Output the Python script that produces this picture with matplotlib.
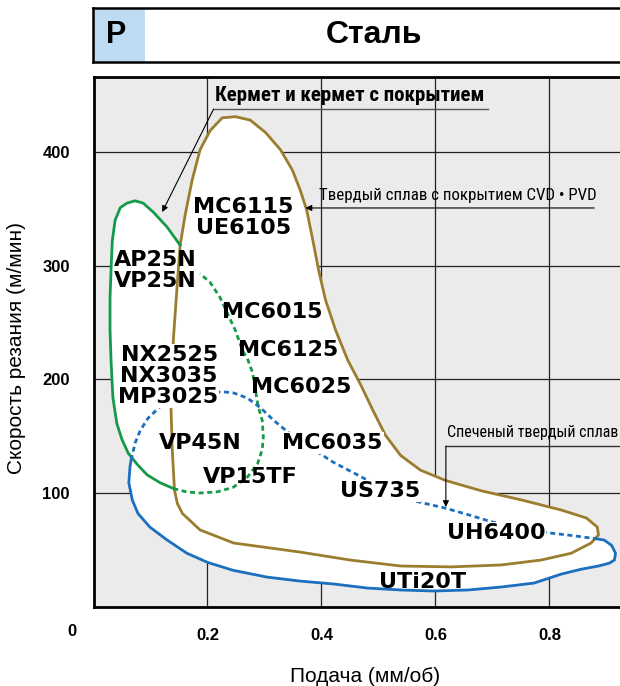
import matplotlib
matplotlib.use("Agg")
import matplotlib.pyplot as plt
from matplotlib.patches import Rectangle, Polygon

# ---------------- data (feed mm/rev, cutting speed m/min) ----------------
# Coated carbide CVD/PVD region (closed outline)
brown_x = [0.142, 0.138, 0.136, 0.138, 0.140, 0.145, 0.152, 0.161, 0.173, 0.187,
           0.205, 0.226, 0.249, 0.275, 0.302, 0.328, 0.349, 0.363, 0.374, 0.385,
           0.395, 0.407, 0.425, 0.446, 0.469, 0.490, 0.512, 0.539, 0.574, 0.618,
           0.680, 0.750, 0.821, 0.865, 0.884, 0.886, 0.873, 0.838, 0.785, 0.715,
           0.627, 0.539, 0.451, 0.363, 0.334, 0.246, 0.187, 0.156, 0.147, 0.142]
brown_y = [103, 140, 175, 200, 234, 270, 318, 345, 375, 402,
           419, 430, 431, 428, 417, 402, 384, 366, 349, 322,
           296, 270, 243, 217, 195, 173, 151, 133, 120, 111,
           102, 94, 85, 78, 70, 63, 56, 47, 41, 36.7,
           35, 35.8, 41, 48, 50, 56, 67.5, 82, 91, 103]

# Cermet region: solid part then dashed part
green_solid_x = [0.152, 0.129, 0.105, 0.087, 0.073, 0.059, 0.047, 0.038, 0.033, 0.031,
                 0.029, 0.029, 0.031, 0.034, 0.041, 0.050, 0.061, 0.077, 0.094,
                 0.117, 0.140]
green_solid_y = [318, 334, 347, 355, 357, 355, 351, 340, 322, 299,
                 272, 243, 214, 184, 161, 147, 135, 125, 116,
                 109, 104]
green_dash_x = [0.140, 0.164, 0.187, 0.217, 0.245, 0.270, 0.288, 0.296, 0.298, 0.296,
                0.289, 0.284, 0.279, 0.271, 0.261, 0.249, 0.235, 0.222, 0.205, 0.187]
green_dash_y = [104, 100.9, 100, 101, 105, 114, 126, 138, 149, 164,
                176, 191, 206, 217, 226, 243, 258, 272, 285, 293]

# Sintered carbide region: dashed upper part, solid lower part
blue_dash_x = [0.066, 0.073, 0.082, 0.096, 0.117, 0.143, 0.179, 0.228, 0.246, 0.270,
               0.293, 0.316, 0.340, 0.363, 0.393, 0.421, 0.463, 0.504, 0.544, 0.580,
               0.615, 0.657, 0.697, 0.750, 0.798, 0.833, 0.879]
blue_dash_y = [129, 144, 155, 166, 176, 183.6, 188, 189, 188, 183.5,
               175, 164, 154, 146, 136, 127, 116, 105, 95.6, 91,
               87, 81, 74.9, 69, 65, 63, 60]
blue_solid_x = [0.879, 0.896, 0.909, 0.916, 0.914, 0.905, 0.886, 0.856, 0.821, 0.773,
                0.715, 0.657, 0.597, 0.539, 0.481, 0.421, 0.363, 0.305, 0.245, 0.200,
                0.164, 0.129, 0.099, 0.078, 0.068, 0.062, 0.064, 0.066]
blue_solid_y = [60, 58.6, 54, 47, 41, 38.3, 35.8, 33, 28.7, 20.8,
                17.3, 14.7, 13.8, 14.7, 16.4, 20, 22.5, 26, 32, 39,
                47, 58.7, 70, 82, 94, 109, 123, 129]

x_ticks = [0.2, 0.4, 0.6, 0.8]
x_tick_labels = ["0.2", "0.4", "0.6", "0.8"]
y_ticks = [100, 200, 300, 400]
y_tick_labels = ["100", "200", "300", "400"]

grade_labels = ["AP25N", "VP25N", "MC6115", "UE6105", "MC6015", "MC6125",
                "NX2525", "NX3035", "MP3025", "MC6025", "VP45N", "MC6035",
                "VP15TF", "US735", "UH6400", "UTi20T"]
grade_x = [0.1082, 0.1082, 0.2630, 0.2630, 0.3140, 0.3421,
           0.1328, 0.1328, 0.1310, 0.3650, 0.1873, 0.4195,
           0.2753, 0.5022, 0.7062, 0.5778]
grade_y = [306.6, 288.2, 353.2, 334.8, 261.0, 227.5,
           223.1, 204.6, 186.1, 194.9, 145.8, 145.8,
           115.9, 103.6, 66.6, 23.5]
masked = {"NX2525", "NX3035", "MP3025", "MC6035", "US735", "UH6400"}

title = "Сталь"
group = "P"
x_label = "Подача (мм/об)"
y_label = "Скорость резания (м/мин)"
note_cermet = "Кермет и кермет с покрытием"
note_coated = "Твердый сплав с покрытием CVD • PVD"
note_sinter = "Спеченый твердый сплав"

# ---------------- style ----------------
BROWN = "#9b7d2e"
GREEN = "#159a4a"
BLUE = "#1b6fbe"
BG = "#ebebeb"
NARROW = ["Roboto Condensed", "Liberation Sans Narrow", "Liberation Sans", "DejaVu Sans"]
ARIAL = ["Liberation Sans", "DejaVu Sans"]

W, H = 620, 686
fig = plt.figure(figsize=(W / 100, H / 100), dpi=100)

# header
hax = fig.add_axes([93 / W, 1 - 62 / H, 1.0, 54 / H])
hax.set_xlim(0, W)
hax.set_ylim(0, 54)
hax.set_xticks([])
hax.set_yticks([])
for s in hax.spines.values():
    s.set_linewidth(1.8)
hax.add_patch(Rectangle((0, 0), 52, 54, facecolor="#bddcf3", edgecolor="none"))
hax.text(23, 27, group, ha="center", va="center", fontsize=22,
         fontweight="bold", family=ARIAL)
hax.text(281, 27, title, ha="center", va="center", fontsize=23,
         fontweight="bold", family=ARIAL)

# main axes
x0, y0 = 93.5, 606.7
ax = fig.add_axes([x0 / W, 1 - y0 / H, 1 - x0 / W + 0.002, (y0 - 77) / H])
ax.set_xlim(0, 0.926)
ax.set_ylim(0, 465.9)
ax.set_facecolor(BG)
ax.set_axisbelow(True)
ax.grid(True, color="#222222", linewidth=0.9)
for side in ["left", "bottom", "top"]:
    ax.spines[side].set_linewidth(2.0)
ax.spines["right"].set_visible(False)
ax.set_xticks(x_ticks)
ax.set_xticklabels(x_tick_labels)
ax.set_yticks(y_ticks)
ax.set_yticklabels(y_tick_labels)
ax.tick_params(length=0, labelsize=12)
ax.tick_params(axis="x", pad=15)
ax.tick_params(axis="y", pad=17)
for lab in ax.get_xticklabels() + ax.get_yticklabels():
    lab.set_fontweight("bold")
    lab.set_family(ARIAL)
fig.text(72 / W, 1 - 632 / H, "0", ha="center", va="center", fontsize=12,
         fontweight="bold", family=ARIAL)

# white filled regions
for px_, py_ in [(brown_x, brown_y),
                 (green_solid_x + green_dash_x, green_solid_y + green_dash_y),
                 (blue_dash_x + blue_solid_x, blue_dash_y + blue_solid_y)]:
    ax.add_patch(Polygon(list(zip(px_, py_)), closed=True, facecolor="white",
                         edgecolor="none", zorder=1))

lw = 2.0
ax.plot(brown_x, brown_y, color=BROWN, lw=lw, zorder=3, solid_joinstyle="round")
ax.plot(green_solid_x, green_solid_y, color=GREEN, lw=lw, zorder=3)
ax.plot(green_dash_x, green_dash_y, color=GREEN, lw=lw, zorder=3,
        linestyle=(0, (1.8, 1.3)))
ax.plot(blue_solid_x, blue_solid_y, color=BLUE, lw=lw, zorder=3)
ax.plot(blue_dash_x, blue_dash_y, color=BLUE, lw=lw, zorder=3,
        linestyle=(0, (1.8, 1.3)))

# grade labels (y given at cap centre; shift to baseline)
for name, gx, gy in zip(grade_labels, grade_x, grade_y):
    kw = {}
    if name in masked:
        kw["bbox"] = dict(boxstyle="square,pad=0.05", facecolor="white",
                          edgecolor="none")
    ax.text(gx, gy - 7.0, name, ha="center", va="baseline", fontsize=16,
            fontweight="bold", zorder=5, **kw)

# notes with leaders
arrow = dict(arrowstyle="-|>", color="black", lw=0.8, mutation_scale=9,
             shrinkA=0, shrinkB=0)
ax.text(0.4494, 449.2, note_cermet, ha="center", va="center", fontsize=15,
        fontweight="bold", family=NARROW, zorder=6)
ax.plot([0.2107, 0.6921], [437.7, 437.7], color="#555555", lw=1.0, zorder=6)
ax.annotate("", xy=(0.1205, 347.1), xytext=(0.2107, 437.7),
            arrowprops=arrow, zorder=6)

ax.text(0.6385, 362.0, note_coated, ha="center", va="center", fontsize=12.2,
        family=NARROW, zorder=6)
ax.annotate("", xy=(0.372, 350.7), xytext=(0.8786, 350.7),
            arrowprops=arrow, zorder=6)

ax.text(0.7704, 152.8, note_sinter, ha="center", va="center", fontsize=11.5,
        family=NARROW, zorder=6)
ax.plot([0.6183, 0.93], [141.3, 141.3], color="#333333", lw=1.0, zorder=6,
        clip_on=False)
ax.annotate("", xy=(0.6183, 87.7), xytext=(0.6183, 141.3),
            arrowprops=arrow, zorder=6)

fig.text(17 / W, 1 - 348 / H, y_label, rotation=90, ha="center", va="center",
         fontsize=15, family=ARIAL)
fig.text(365 / W, 1 - 676 / H, x_label, ha="center", va="center",
         fontsize=15, family=ARIAL)

fig.savefig("out.png", dpi=100, facecolor="white")
